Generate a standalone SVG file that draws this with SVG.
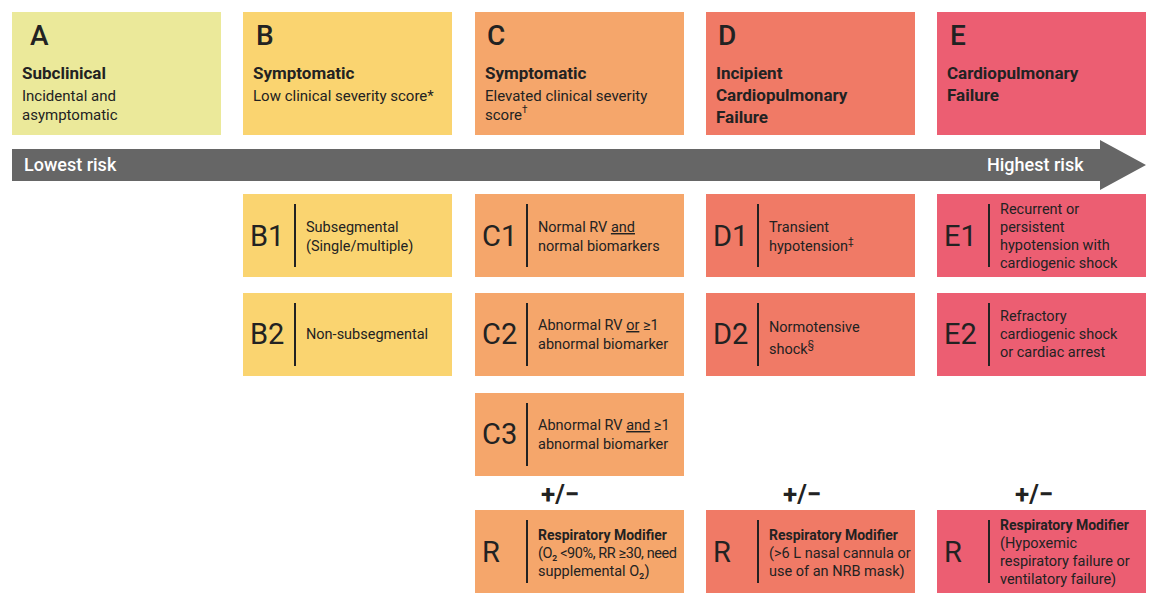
<svg xmlns="http://www.w3.org/2000/svg" width="1155" height="605" viewBox="0 0 1155 605">
<style>
text{font-family:Roboto,"Liberation Sans",sans-serif;fill:#222}
.L{font-size:28px;font-weight:500}
.t{font-size:17px;font-weight:bold}
.s{font-size:15px}
.c{font-size:29px}
.d{font-size:14.5px}
.db{font-size:14px;font-weight:bold}
.pm{font-size:26px;font-weight:bold}
.v{stroke:#222;stroke-width:2}
.a{fill:#ebe99a}.b{fill:#fad470}.cc{fill:#f5a66b}.dd{fill:#f07a66}.e{fill:#ec5e72}
</style>
<rect width="1155" height="605" fill="#fff"/>
<g id="A"><rect class="a" x="12" y="12" width="209" height="123"/><text class="L" x="30" y="45">A</text><text class="t" x="22" y="79">Subclinical</text><text class="s" x="22" y="101">Incidental and</text><text class="s" x="22" y="120">asymptomatic</text></g>
<g id="B"><rect class="b" x="243" y="12" width="209" height="123"/><text class="L" x="256" y="45">B</text><text class="t" x="253" y="79">Symptomatic</text><text class="s" x="253" y="101">Low clinical severity score*</text></g>
<g id="C"><rect class="cc" x="475" y="12" width="209" height="123"/><text class="L" x="487" y="45">C</text><text class="t" x="485" y="79">Symptomatic</text><text class="s" x="485" y="101">Elevated clinical severity</text><text class="s" x="485" y="120">score<tspan font-size="10" dy="-7">†</tspan></text></g>
<g id="D"><rect class="dd" x="706" y="12" width="209" height="123"/><text class="L" x="718" y="45">D</text><text class="t" x="716" y="79">Incipient</text><text class="t" x="716" y="101">Cardiopulmonary</text><text class="t" x="716" y="123">Failure</text></g>
<g id="E"><rect class="e" x="937" y="12" width="209" height="123"/><text class="L" x="950" y="45">E</text><text class="t" x="947" y="79">Cardiopulmonary</text><text class="t" x="947" y="101">Failure</text></g>
<g id="arrow"><path d="M12 149H1100V140L1146 165L1100 190V181H12Z" fill="#666"/><text x="24" y="171" font-size="18" font-weight="500" style="fill:#fff">Lowest risk</text><text x="987" y="171" font-size="18" font-weight="500" style="fill:#fff">Highest risk</text></g>
<g id="B1"><rect class="b" x="243" y="194" width="209" height="83"/><text class="c" x="250" y="246">B1</text><line class="v" x1="295" y1="204" x2="295" y2="267"/><text class="d" x="306" y="232">Subsegmental</text><text class="d" x="306" y="251">(Single/multiple)</text></g>
<g id="B2"><rect class="b" x="243" y="293" width="209" height="83"/><text class="c" x="250" y="344">B2</text><line class="v" x1="295" y1="303" x2="295" y2="366"/><text class="d" x="306" y="339">Non-subsegmental</text></g>
<g id="C1"><rect class="cc" x="475" y="194" width="209" height="83"/><text class="c" x="482" y="246">C1</text><line class="v" x1="527" y1="204" x2="527" y2="267"/><text class="d" x="538" y="232">Normal RV <tspan text-decoration="underline">and</tspan></text><text class="d" x="538" y="251">normal biomarkers</text></g>
<g id="C2"><rect class="cc" x="475" y="293" width="209" height="83"/><text class="c" x="482" y="344">C2</text><line class="v" x1="527" y1="303" x2="527" y2="366"/><text class="d" x="538" y="330">Abnormal RV <tspan text-decoration="underline">or</tspan> ≥1</text><text class="d" x="538" y="349">abnormal biomarker</text></g>
<g id="C3"><rect class="cc" x="475" y="393" width="209" height="83"/><text class="c" x="482" y="444">C3</text><line class="v" x1="527" y1="403" x2="527" y2="466"/><text class="d" x="538" y="430">Abnormal RV <tspan text-decoration="underline">and</tspan> ≥1</text><text class="d" x="538" y="449">abnormal biomarker</text></g>
<g id="D1"><rect class="dd" x="706" y="194" width="209" height="83"/><text class="c" x="713" y="246">D1</text><line class="v" x1="758" y1="204" x2="758" y2="267"/><text class="d" x="769" y="232">Transient</text><text class="d" x="769" y="251">hypotension<tspan font-size="10" dy="-6">‡</tspan></text></g>
<g id="D2"><rect class="dd" x="706" y="293" width="209" height="83"/><text class="c" x="713" y="344">D2</text><line class="v" x1="758" y1="303" x2="758" y2="366"/><text class="d" x="769" y="332">Normotensive</text><text class="d" x="769" y="354">shock<tspan font-size="10" dy="-6">§</tspan></text></g>
<g id="E1"><rect class="e" x="937" y="194" width="209" height="83"/><text class="c" x="944" y="246">E1</text><line class="v" x1="989" y1="204" x2="989" y2="267"/><text class="d" x="1000" y="214">Recurrent or</text><text class="d" x="1000" y="232">persistent</text><text class="d" x="1000" y="250">hypotension with</text><text class="d" x="1000" y="268">cardiogenic shock</text></g>
<g id="E2"><rect class="e" x="937" y="293" width="209" height="83"/><text class="c" x="944" y="344">E2</text><line class="v" x1="989" y1="303" x2="989" y2="366"/><text class="d" x="1000" y="321">Refractory</text><text class="d" x="1000" y="339">cardiogenic shock</text><text class="d" x="1000" y="357">or cardiac arrest</text></g>
<g id="pm"><text class="pm" x="541" y="503">+/−</text><text class="pm" x="783" y="503">+/−</text><text class="pm" x="1015" y="503">+/−</text></g>
<g id="RC"><rect class="cc" x="475" y="510" width="209" height="83"/><text class="c" x="482" y="562">R</text><line class="v" x1="527" y1="520" x2="527" y2="583"/><text class="db" x="538" y="540">Respiratory Modifier</text><text class="d" x="538" y="558" textLength="139">(O₂ &lt;90%, RR ≥30, need</text><text class="d" x="538" y="576">supplemental O₂)</text></g>
<g id="RD"><rect class="dd" x="706" y="510" width="209" height="83"/><text class="c" x="713" y="562">R</text><line class="v" x1="758" y1="520" x2="758" y2="583"/><text class="db" x="769" y="540">Respiratory Modifier</text><text class="d" x="769" y="558">(&gt;6 L nasal cannula or</text><text class="d" x="769" y="576">use of an NRB mask)</text></g>
<g id="RE"><rect class="e" x="937" y="510" width="209" height="83"/><text class="c" x="944" y="562">R</text><line class="v" x1="989" y1="520" x2="989" y2="583"/><text class="db" x="1000" y="530">Respiratory Modifier</text><text class="d" x="1000" y="548">(Hypoxemic</text><text class="d" x="1000" y="566">respiratory failure or</text><text class="d" x="1000" y="584">ventilatory failure)</text></g>
</svg>
